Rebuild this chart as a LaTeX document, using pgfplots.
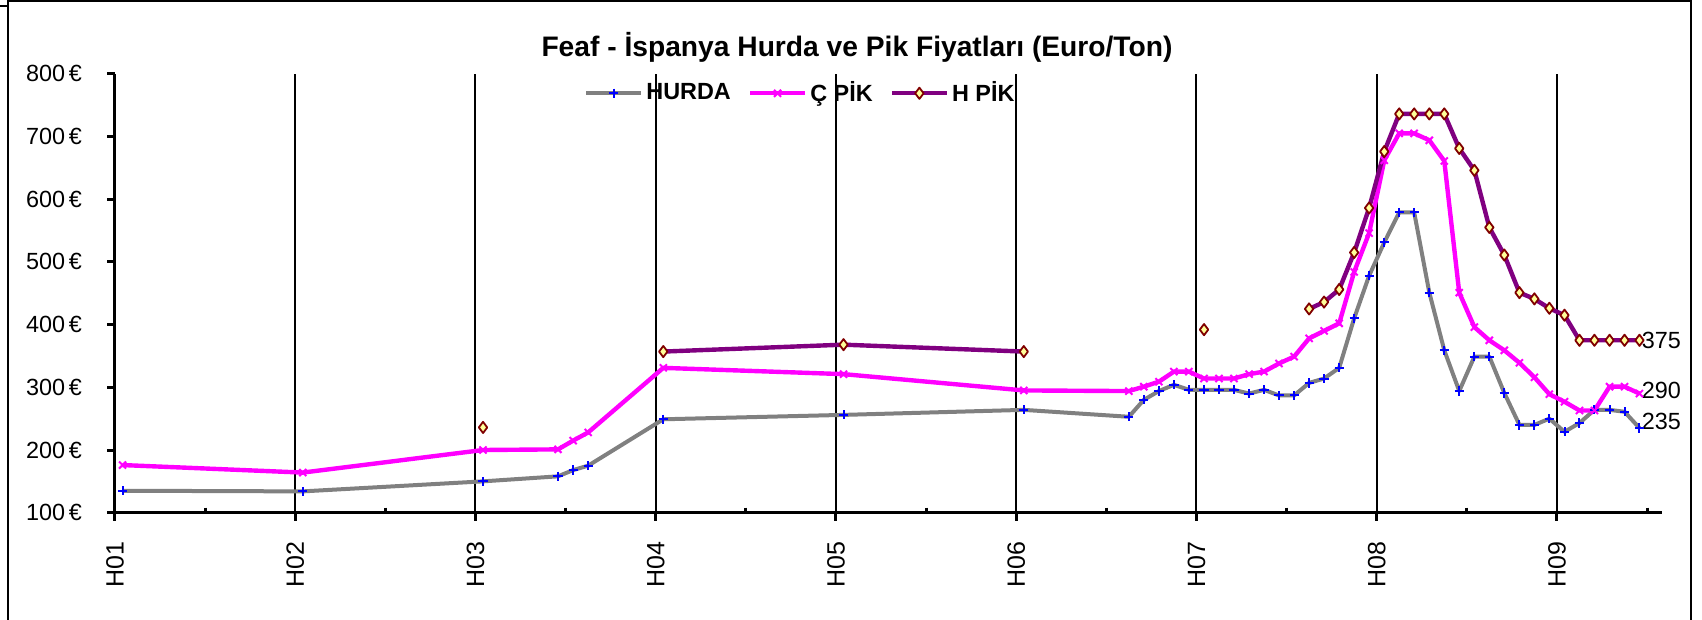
\documentclass[border=0pt]{standalone}
\usepackage{fontspec}
\setmainfont{Liberation Sans}
\usepackage{pgfplots}
\usepackage{pgfplotstable}
\pgfplotsset{compat=1.18}

\definecolor{hurda}{RGB}{128,128,128}
\definecolor{cpik}{RGB}{255,0,255}
\definecolor{hpik}{RGB}{128,0,128}
\definecolor{mkred}{RGB}{128,0,0}
\definecolor{mkfill}{RGB}{255,255,153}

% x = year + (month-0.5)/12
\pgfplotstableread{
x y
2001.042 135
2002.042 134
2003.042 150
2003.458 158
2003.542 168
2003.625 175
2004.042 249
2005.042 256
2006.042 264
2006.625 253
2006.708 280
2006.792 294
2006.875 304
2006.958 296
2007.042 296
2007.125 296
2007.208 296
2007.292 290
2007.375 296
2007.458 287
2007.542 287
2007.625 307
2007.708 314
2007.792 331
2007.875 410
2007.958 478
2008.042 531
2008.125 579
2008.208 579
2008.292 451
2008.375 359
2008.458 294
2008.542 349
2008.625 349
2008.708 291
2008.792 240
2008.875 240
2008.958 250
2009.042 229
2009.125 243
2009.208 264
2009.292 264
2009.375 261
2009.458 235
}\hurda

\pgfplotstableread{
x y
2001.042 176
2002.042 164
2003.042 200
2003.458 201
2003.542 215
2003.625 228
2004.042 331
2005.042 321
2006.042 295
2006.625 294
2006.708 301
2006.792 309
2006.875 325
2006.958 325
2007.042 314
2007.125 314
2007.208 314
2007.292 321
2007.375 325
2007.458 338
2007.542 349
2007.625 378
2007.708 390
2007.792 402
2007.875 484
2007.958 546
2008.042 662
2008.125 705
2008.208 705
2008.292 694
2008.375 661
2008.458 451
2008.542 396
2008.625 375
2008.708 359
2008.792 339
2008.875 316
2008.958 289
2009.042 277
2009.125 263
2009.208 263
2009.292 301
2009.375 301
2009.458 290
}\cpik

\pgfplotstableread{
x y
2003.042 236
2003.500 nan
2004.042 357
2005.042 368
2006.042 357
2006.500 nan
2007.042 392
2007.300 nan
2007.625 425
2007.708 436
2007.792 456
2007.875 515
2007.958 586
2008.042 676
2008.125 736
2008.208 736
2008.292 736
2008.375 736
2008.458 681
2008.542 646
2008.625 555
2008.708 511
2008.792 451
2008.875 441
2008.958 426
2009.042 415
2009.125 375
2009.208 375
2009.292 375
2009.375 375
2009.458 375
}\hpik

\begin{document}
\begin{tikzpicture}
% 1 px of the reference = 0.5pt
\useasboundingbox (0,0) rectangle (851pt,-310pt);
\draw[line width=0.8pt] (4pt,0.5pt) -- (4pt,-312pt);
\draw[line width=0.8pt] (4pt,-0.6pt) -- (845.5pt,-0.6pt) -- (845.5pt,-312pt);
\draw[line width=0.8pt] (0,-3pt) -- (4pt,-3pt);

\node[font=\fontsize{14.1}{17}\selectfont\bfseries, anchor=base, inner sep=0pt]
  at (428.5pt,-28.35pt) {Feaf - İspanya Hurda ve Pik Fiyatları (Euro/Ton)};

\begin{axis}[
    at={(57.5pt,-256.35pt)}, anchor=south west,
    scale only axis,
    width=773.5pt, height=219.45pt,
    xmin=2001, xmax=2009.583,
    ymin=100, ymax=800,
    clip=false,
    unbounded coords=jump,
    axis x line*=bottom, axis y line*=left,
    axis line style={line width=1.5pt, -},
    tick align=outside,
    major tick length=4pt,
    minor tick length=-2.5pt,
    tick style={black, line width=1.5pt},
    xtick={2001,2002,2003,2004,2005,2006,2007,2008,2009},
    xticklabels={H01,H02,H03,H04,H05,H06,H07,H08,H09},
    minor xtick={2001.5,2002.5,2003.5,2004.5,2005.5,2006.5,2007.5,2008.5,2009.5},
    ytick={100,200,300,400,500,600,700,800},
    yticklabels={100\,€,200\,€,300\,€,400\,€,500\,€,600\,€,700\,€,800\,€},
    xmajorgrids,
    major grid style={black, line width=1pt},
    xticklabel style={rotate=90, anchor=east, font=\fontsize{12.5}{15}\selectfont},
    xticklabel shift=7pt,
    yticklabel style={font=\fontsize{11.7}{14}\selectfont},
    yticklabel shift=9pt,
    legend columns=3,
    legend style={draw=none, fill=none, at={(0.4434,0.9556)}, anchor=center,
        font=\fontsize{11.7}{14}\selectfont\bfseries,
        nodes={inner sep=1.5pt},
        /tikz/every even column/.append style={column sep=7pt}},
    legend image code/.code={\draw[mark repeat=2, mark phase=2]
        plot coordinates {(0pt,0pt) (13.75pt,0pt) (27.5pt,0pt)};},
    every axis plot/.append style={line join=round},
]
\addplot[color=hurda, line width=2pt, mark=+, mark size=2.3pt,
    mark options={draw=blue, line width=1pt, solid}] table {\hurda};
\addlegendentry{HURDA}
\addplot[color=cpik, line width=2.2pt, mark=x, mark size=2.5pt,
    mark options={draw=cpik, line width=1pt, solid}] table {\cpik};
\addlegendentry{Ç PİK}
\addplot[color=hpik, line width=2.2pt, mark=diamond*, mark size=2.8pt,
    mark options={draw=mkred, fill=mkfill, line width=0.9pt, solid}] table {\hpik};
\addlegendentry{H PİK}

\node[anchor=west, font=\fontsize{11.7}{14}\selectfont, inner sep=1pt]
  at (axis cs:2009.458,375) {375};
\node[anchor=west, font=\fontsize{11.7}{14}\selectfont, inner sep=1pt, yshift=1.5pt]
  at (axis cs:2009.458,290) {290};
\node[anchor=west, font=\fontsize{11.7}{14}\selectfont, inner sep=1pt, yshift=3.5pt]
  at (axis cs:2009.458,235) {235};
\end{axis}
\end{tikzpicture}
\end{document}
